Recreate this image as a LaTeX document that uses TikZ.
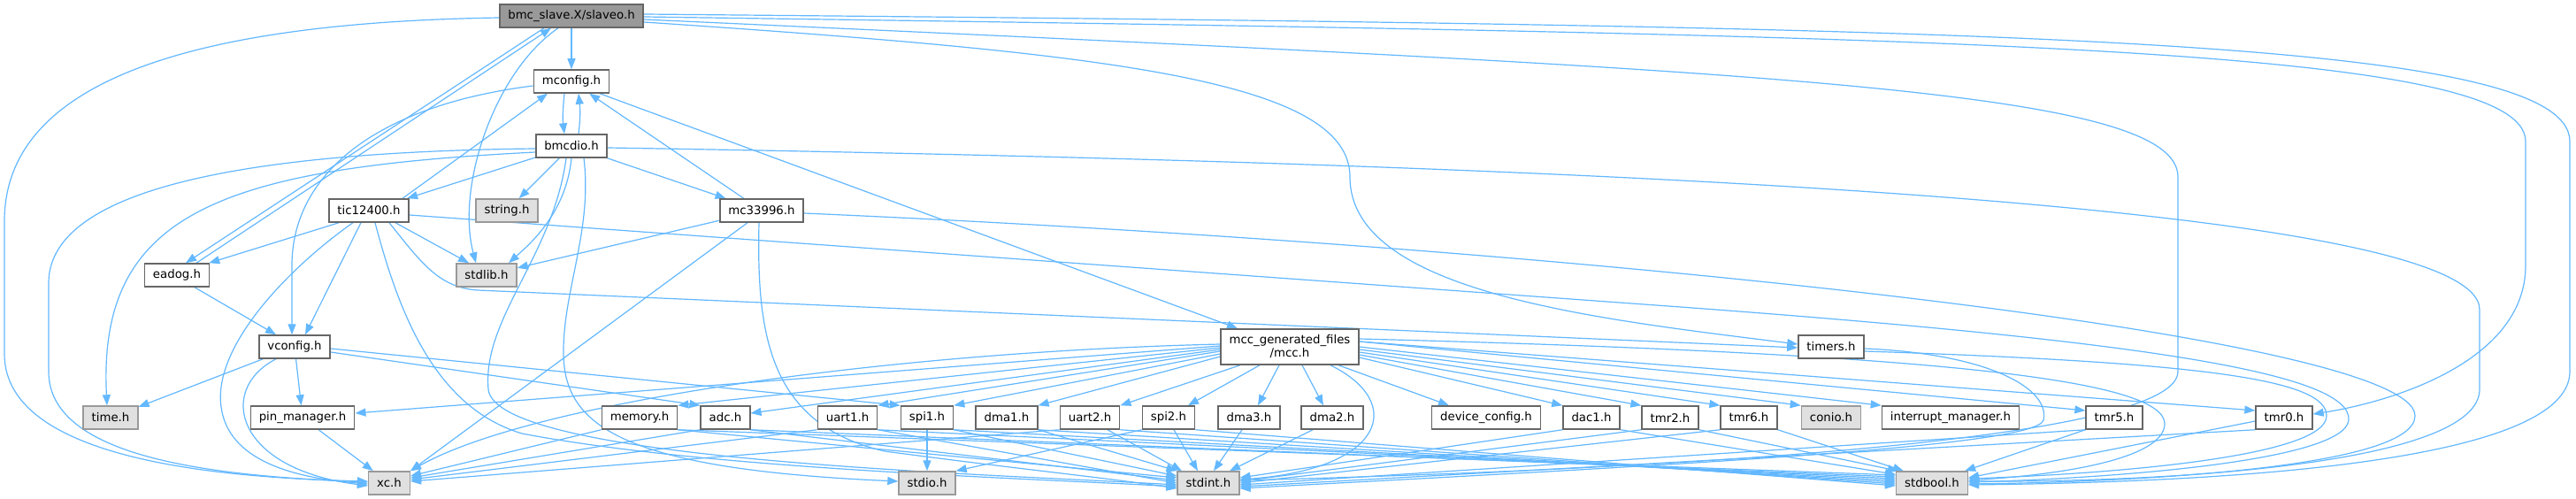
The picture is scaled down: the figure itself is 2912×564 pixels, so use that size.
\documentclass[tikz,border=0pt]{standalone}
\usepackage{fontspec}
\setmainfont{DejaVu Sans}
\usepackage{xcolor}
\usepackage{tikz}
\usetikzlibrary{arrows.meta, positioning}

\definecolor{inclblue}{HTML}{63B8FF}
\definecolor{boxline}{HTML}{666666}
\definecolor{sysline}{HTML}{999999}
\definecolor{sysfill}{HTML}{E0E0E0}
\definecolor{rootfill}{HTML}{999999}

\pgfdeclarelayer{bg}
\pgfsetlayers{bg,main}

\tikzset{
    filebox/.style={draw=boxline, fill=white, line width=1.5pt, rectangle,
        minimum height=26pt, inner xsep=9.5pt, inner ysep=0pt,
        font=\fontsize{13.3}{15}\selectfont},
    sysbox/.style={filebox, draw=sysline, fill=sysfill},
    rootbox/.style={filebox, fill=rootfill},
    incl/.style={->, draw=inclblue, line width=1.2pt}
}

\begin{document}
\begin{tikzpicture}[x=1pt, y=-1pt, >={Triangle[length=12pt,width=9pt]}]
    \useasboundingbox (0,0) rectangle (2912,564);

    % upper part
    \node[rootbox] (slaveo) at (646,18) {bmc\_slave.X/slaveo.h};
    \node[filebox] (mconfig) at (646,92) {mconfig.h};
    \node[filebox] (bmcdio) at (646,165) {bmcdio.h};
    \node[filebox] (tic) at (417,238) {tic12400.h};
    \node[sysbox] (string) at (573,238) {string.h};
    \node[filebox] (mc) at (861,238) {mc33996.h};
    \node[filebox] (eadog) at (200,311) {eadog.h};
    \node[sysbox] (stdlib) at (550,311) {stdlib.h};
    \node[filebox] (vconfig) at (333,392) {vconfig.h};
    \node[filebox, align=center, minimum height=40pt] (mcc) at (1458,392) {mcc\_generated\_files\\/mcc.h};
    \node[filebox] (timers) at (2070,392) {timers.h};

    % row of headers
    \node[sysbox] (time) at (125,472) {time.h};
    \node[filebox] (pin) at (342,472) {pin\_manager.h};
    \node[filebox] (memory) at (723,472) {memory.h};
    \node[filebox] (adc) at (820,472) {adc.h};
    \node[filebox] (uart1) at (958,472) {uart1.h};
    \node[filebox] (spi1) at (1048,472) {spi1.h};
    \node[filebox] (dma1) at (1138,472) {dma1.h};
    \node[filebox] (uart2) at (1232,472) {uart2.h};
    \node[filebox] (spi2) at (1321,472) {spi2.h};
    \node[filebox] (dma3) at (1412,472) {dma3.h};
    \node[filebox] (dma2) at (1506,472) {dma2.h};
    \node[filebox] (devcfg) at (1680,472) {device\_config.h};
    \node[filebox] (dac1) at (1799,472) {dac1.h};
    \node[filebox] (tmr2) at (1888,472) {tmr2.h};
    \node[filebox] (tmr6) at (1977,472) {tmr6.h};
    \node[sysbox] (conio) at (2070,472) {conio.h};
    \node[filebox] (intmgr) at (2205,472) {interrupt\_manager.h};
    \node[filebox] (tmr5) at (2390,472) {tmr5.h};
    \node[filebox] (tmr0) at (2582,472) {tmr0.h};

    % system headers at the bottom
    \node[sysbox] (xc) at (440,546) {xc.h};
    \node[sysbox] (stdio) at (1048,546) {stdio.h};
    \node[sysbox] (stdint) at (1366,546) {stdint.h};
    \node[sysbox] (stdbool) at (2184,546) {stdbool.h};

    \begin{pgfonlayer}{bg}
    \fill[white] (0,0) rectangle (2912,564);

    % slaveo.h
    \draw[incl] ([yshift=-2pt]slaveo.west) .. controls (250,25) and (5,80) .. (5,250) -- (5,400) .. controls (5,520) and (250,540) .. ([yshift=2pt]xc.west);
    \draw[incl] (slaveo) -- (mconfig);
    \draw[incl] ([xshift=-31]slaveo.south) -- ([xshift=10]eadog.north);
    \draw[incl] ([xshift=-15]slaveo.south) .. controls (560,80) and (515,210) .. ([xshift=-12]stdlib.north);
    \draw[incl] ([yshift=-7pt]slaveo.east) .. controls (1250,60) and (1526,90) .. (1526,200) .. controls (1526,330) and (1800,360) .. ([yshift=3pt]timers.west);
    \draw[incl] ([yshift=-4pt]slaveo.east) .. controls (2000,80) and (2462,100) .. (2462,200) -- (2462,420) .. controls (2462,510) and (1700,535) .. ([yshift=3pt]stdint.east);
    \draw[incl] ([yshift=-1pt]slaveo.east) .. controls (2200,40) and (2855,50) .. (2855,160) -- (2855,300) .. controls (2855,410) and (2700,455) .. ([yshift=4pt]tmr0.east);
    \draw[incl] ([yshift=2pt]slaveo.east) .. controls (2250,30) and (2905,40) .. (2905,160) -- (2905,420) .. controls (2905,525) and (2500,545) .. ([yshift=-2pt]stdbool.east);

    % eadog.h
    \draw[incl] ([xshift=22]eadog.north) -- ([xshift=-23]slaveo.south);
    \draw[incl] ([xshift=20]eadog.south) -- ([xshift=-21]vconfig.north);

    % mconfig.h
    \draw[incl] ([xshift=-8]mconfig.south) .. controls (636,125) and (636,135) .. ([xshift=-8]bmcdio.north);
    \draw[incl] ([yshift=-5pt]mconfig.west) .. controls (420,120) and (330,200) .. (330,300) -- ([xshift=-3]vconfig.north);
    \draw[incl] ([xshift=32]mconfig.south) -- ([xshift=-59]mcc.north);

    % bmcdio.h
    \draw[incl] ([xshift=8]bmcdio.north) .. controls (656,135) and (656,125) .. ([xshift=8]mconfig.south);
    \foreach \t in {tic, string, mc} \draw[incl] (bmcdio) -- (\t);
    \draw[incl] (bmcdio.south) .. controls (640,240) and (600,275) .. ([xshift=25]stdlib.north);
    \draw[incl] ([yshift=-3pt]bmcdio.west) .. controls (250,172) and (55,220) .. (55,320) -- (55,420) .. controls (55,520) and (250,538) .. ([yshift=1pt]xc.west);
    \draw[incl] ([yshift=-7pt]bmcdio.west) .. controls (250,190) and (110,240) .. ([xshift=-4]time.north);
    \draw[incl] ([xshift=-6]bmcdio.south) .. controls (625,290) and (545,360) .. (552,440) .. controls (560,520) and (1100,535) .. ([yshift=-2pt]stdint.west);
    \draw[incl] ([xshift=14]bmcdio.south) .. controls (670,260) and (636,330) .. (637,400) .. controls (638,480) and (700,530) .. ([yshift=2pt]stdio.west);
    \draw[incl] ([yshift=-2pt]bmcdio.east) .. controls (1800,185) and (2803,230) .. (2803,350) -- (2803,440) .. controls (2803,525) and (2450,545) .. ([yshift=2pt]stdbool.east);

    % tic12400.h
    \draw[incl] ([xshift=38]tic.north) -- ([xshift=-27]mconfig.south);
    \draw[incl] ([xshift=-34]tic.south) -- ([xshift=-1]eadog.north east);
    \draw[incl] ([xshift=-18]tic.south) .. controls (330,300) and (240,390) .. (250,460) .. controls (258,520) and (330,540) .. ([yshift=-1pt]xc.west);
    \draw[incl] ([xshift=-9]tic.south) -- ([xshift=12]vconfig.north);
    \draw[incl] ([xshift=7]tic.south) .. controls (450,350) and (490,460) .. (590,490) .. controls (800,530) and (1150,540) .. ([yshift=-4pt]stdint.west);
    \draw[incl] ([xshift=23]tic.south) .. controls (475,295) and (495,325) .. (540,328) -- ([yshift=-1pt]timers.west);
    \draw[incl] ([xshift=30]tic.south) -- ([xshift=-20]stdlib.north);
    \draw[incl] ([yshift=-5pt]tic.east) -- (1900,347) .. controls (2400,384) and (2660,420) .. (2655,475) .. controls (2650,520) and (2400,540) .. ([yshift=1pt]stdbool.east);

    % mc33996.h
    \draw[incl] (mc) -- (mconfig);
    \draw[incl] (mc) -- (stdlib);
    \draw[incl] ([xshift=-16]mc.south) -- (xc.north east);
    \draw[incl] ([xshift=-3]mc.south) .. controls (855,380) and (870,480) .. (1000,510) .. controls (1150,530) and (1250,540) .. ([yshift=-6pt]stdint.west);
    \draw[incl] ([yshift=-3pt]mc.east) .. controls (1800,280) and (2730,380) .. (2730,470) .. controls (2730,530) and (2400,545) .. ([yshift=-1pt]stdbool.east);

    % vconfig.h
    \draw[incl] (vconfig) -- (time);
    \draw[incl] (vconfig) -- (pin);
    \draw[incl] ([xshift=-21]vconfig.south) .. controls (245,440) and (265,530) .. ([yshift=-3pt]xc.west);
    \draw[incl] ([yshift=-6pt]vconfig.east) -- (adc.north west);
    \draw[incl] ([yshift=-2pt]vconfig.east) -- (spi1.north west);
    \draw[incl] (pin) -- (xc);

    % mcc_generated_files/mcc.h
    \draw[incl] ([yshift=3pt]mcc.west) .. controls (1000,398) and (600,455) .. (xc.north east);
    \draw[incl] ([yshift=1pt]mcc.west) -- ([yshift=5pt]pin.east);
    \draw[incl] ([yshift=-1pt]mcc.west) -- (memory.north east);
    \draw[incl] ([yshift=-3pt]mcc.west) -- ([yshift=5pt]adc.east);
    \draw[incl] ([yshift=-5pt]mcc.west) -- (uart1.north east);
    \draw[incl] ([yshift=-8pt]mcc.west) -- (spi1.north east);
    \draw[incl] ([yshift=-11pt]mcc.west) -- (dma1.north east);
    \draw[incl] ([xshift=-56]mcc.south) -- (uart2.north east);
    \draw[incl] ([xshift=-34]mcc.south) -- ([xshift=22]spi2.north);
    \draw[incl] ([xshift=-12]mcc.south) -- ([xshift=10]dma3.north);
    \draw[incl] ([xshift=14]mcc.south) -- ([xshift=-10]dma2.north);
    \draw[incl] ([xshift=46]mcc.south) .. controls (1590,455) and (1565,530) .. ([yshift=4pt]stdint.east);
    \draw[incl] ([xshift=55]mcc.south) -- ([xshift=-42]devcfg.north);
    \draw[incl] ([yshift=-12pt]mcc.east) -- (dac1.north west);
    \draw[incl] ([yshift=-9pt]mcc.east) -- (tmr2.north west);
    \draw[incl] ([yshift=-6pt]mcc.east) -- (tmr6.north west);
    \draw[incl] ([yshift=-3pt]mcc.east) -- (conio.north west);
    \draw[incl] (mcc.east) -- (intmgr.north west);
    \draw[incl] ([yshift=6pt]mcc.east) -- ([yshift=8pt]tmr5.west);
    \draw[incl] ([yshift=6pt]mcc.east) -- ([yshift=8pt]tmr0.west);
    \draw[incl] ([yshift=9pt]mcc.east) .. controls (2200,400) and (2450,430) .. (2447,480) .. controls (2445,515) and (2350,535) .. ([yshift=3pt]stdbool.east);

    % timers.h
    \draw[incl] ([yshift=-2pt]timers.east) .. controls (2250,400) and (2318,440) .. (2310,475) .. controls (2300,505) and (1900,525) .. ([yshift=-6pt]stdint.east);
    \draw[incl] ([yshift=-5pt]timers.east) .. controls (2500,410) and (2630,430) .. (2630,470) .. controls (2630,515) and (2400,535) .. ([yshift=5pt]stdbool.east);

    % headers -> xc.h, stdio.h
    \foreach \a/\s in {memory/8, adc/6, uart1/4, uart2/2} \draw[incl] (\a.south west) -- ([yshift=\s pt]xc.east);
    \draw[incl] (spi1) -- (stdio);
    \draw[incl] (spi2.south west) -- (stdio.north east);

    % headers -> stdint.h
    \foreach \a/\s in {memory/6, adc/3, uart1/0, spi1/8} \draw[incl] (\a.south east) -- ([yshift=\s pt]stdint.west);
    \draw[incl] (dma1.south east) -- (stdint.north west);
    \foreach \a/\x/\y in {uart2/20/-30, spi2/6/-12, dma3/-8/6, dma2/-22/24} \draw[incl] ([xshift=\x pt]\a.south) -- ([xshift=\y pt]stdint.north);
    \foreach \a/\s in {dac1/6, tmr2/2, tmr6/0, tmr5/-2, tmr0/-4} \draw[incl] (\a.south west) -- ([yshift=\s pt]stdint.east);

    % headers -> stdbool.h
    \foreach \a/\s in {memory/9, adc/7, uart1/5, spi1/3, dma1/1, uart2/-1, spi2/-3} \draw[incl] (\a.south east) -- ([yshift=\s pt]stdbool.west);
    \draw[incl] (dac1.south east) -- ([yshift=-4pt]stdbool.north west);
    \draw[incl] (tmr2.south east) -- ([xshift=3pt]stdbool.north west);
    \draw[incl] (tmr6.south east) -- ([xshift=9pt]stdbool.north west);
    \draw[incl] (tmr5.south west) -- ([xshift=-4pt]stdbool.north east);
    \draw[incl] ([yshift=-4pt]tmr0.west) -- ([yshift=6pt]stdbool.east);
    \end{pgfonlayer}
\end{tikzpicture}
\end{document}
